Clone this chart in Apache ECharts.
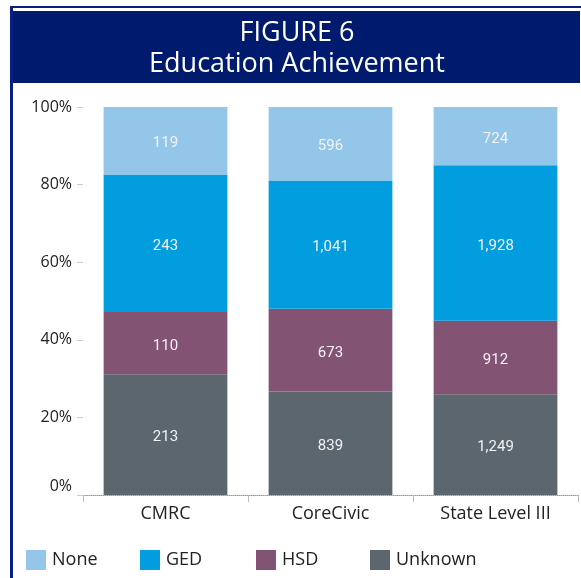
<!DOCTYPE html>
<html>
<head>
<meta charset="utf-8">
<script src="https://cdn.jsdelivr.net/npm/echarts@6/dist/echarts.min.js"></script>
<style>
html,body{margin:0;padding:0;background:#fff;}
#chart{width:581px;height:578px;}
</style>
</head>
<body>
<div id="chart"></div>
<script>
const categories = ['CMRC', 'CoreCivic', 'State Level III'];
const noneCounts = [119, 596, 724];
const gedCounts = [243, 1041, 1928];
const hsdCounts = [110, 673, 912];
const unknownCounts = [213, 839, 1249];
const yTicks = [0, 20, 40, 60, 80, 100];
const legendOrder = ['None', 'GED', 'HSD', 'Unknown'];

const totals = categories.map((c, i) => noneCounts[i] + gedCounts[i] + hsdCounts[i] + unknownCounts[i]);
function pct(arr) {
  return arr.map((v, i) => ({ value: v / totals[i] * 100, count: v }));
}
function fmt(n) { return n.toLocaleString('en-US'); }

const labelFont = 'Roboto, "Noto Sans", sans-serif';
const uiFont = '"Open Sans", "Noto Sans", sans-serif';

function series(name, arr, color) {
  return {
    name: name,
    type: 'bar',
    stack: 'total',
    barWidth: '75%',
    data: pct(arr),
    itemStyle: { color: color },
    label: {
      show: true,
      position: 'inside',
      offset: [0, 3],
      color: '#f2f2f2',
      fontFamily: labelFont,
      fontSize: 15,
      formatter: p => fmt(p.data.count)
    },
    emphasis: { disabled: true }
  };
}

const legendLefts = [21, 135, 251, 365];
const legends = legendOrder.map((name, i) => ({
  data: [name],
  left: legendLefts[i],
  top: 545,
  itemWidth: 20,
  itemHeight: 20,
  icon: 'rect',
  textStyle: { fontFamily: uiFont, fontSize: 18, color: '#222', padding: [0, 0, 0, 1] },
  selectedMode: false
}));

const chart = echarts.init(document.getElementById('chart'), null, { renderer: 'canvas' });
chart.setOption({
  animation: false,
  backgroundColor: '#ffffff',
  graphic: [
    { type: 'rect', shape: { x: 12, y: 6, width: 569, height: 2 }, style: { fill: '#0a1f86' }, z: 10 },
    { type: 'rect', shape: { x: 10, y: 6, width: 3, height: 572 }, style: { fill: '#0a1f86' }, z: 10 },
    { type: 'rect', shape: { x: 13, y: 11, width: 567, height: 72 }, style: { fill: '#001a6e' }, z: 10 },
    { type: 'text', z: 11,
      style: { x: 297, y: 33, text: 'FIGURE 6', fill: '#ffffff', font: '27px ' + uiFont, textAlign: 'center', textVerticalAlign: 'middle' } },
    { type: 'text', z: 11,
      style: { x: 297, y: 64, text: 'Education Achievement', fill: '#ffffff', font: '27px ' + uiFont, textAlign: 'center', textVerticalAlign: 'middle' } }
  ],
  legend: legends,
  grid: { left: 83, right: 3, top: 107, bottom: 83, containLabel: false },
  xAxis: {
    type: 'category',
    data: categories,
    axisLine: { show: true, lineStyle: { color: '#999', type: 'dotted', width: 1 } },
    axisTick: { show: true, length: 7, lineStyle: { color: '#bbb' } },
    axisLabel: { color: '#222', fontFamily: uiFont, fontSize: 18, margin: 10 }
  },
  yAxis: {
    type: 'value',
    min: 0,
    max: 100,
    interval: 20,
    axisLine: { show: false },
    axisTick: { show: true, length: 6, lineStyle: { color: '#ccc' } },
    splitLine: { show: false },
    axisLabel: {
      color: '#222', fontFamily: uiFont, fontSize: 16, margin: 11,
      formatter: v => v === 0 ? '{z|0%}' : v + '%',
      rich: { z: { color: '#222', fontFamily: uiFont, fontSize: 16, padding: [0, 0, 18, 0] } }
    }
  },
  series: [
    series('Unknown', unknownCounts, '#5c666f'),
    series('HSD', hsdCounts, '#835373'),
    series('GED', gedCounts, '#019ddf'),
    series('None', noneCounts, '#93c6e9')
  ]
});
</script>
</body>
</html>
